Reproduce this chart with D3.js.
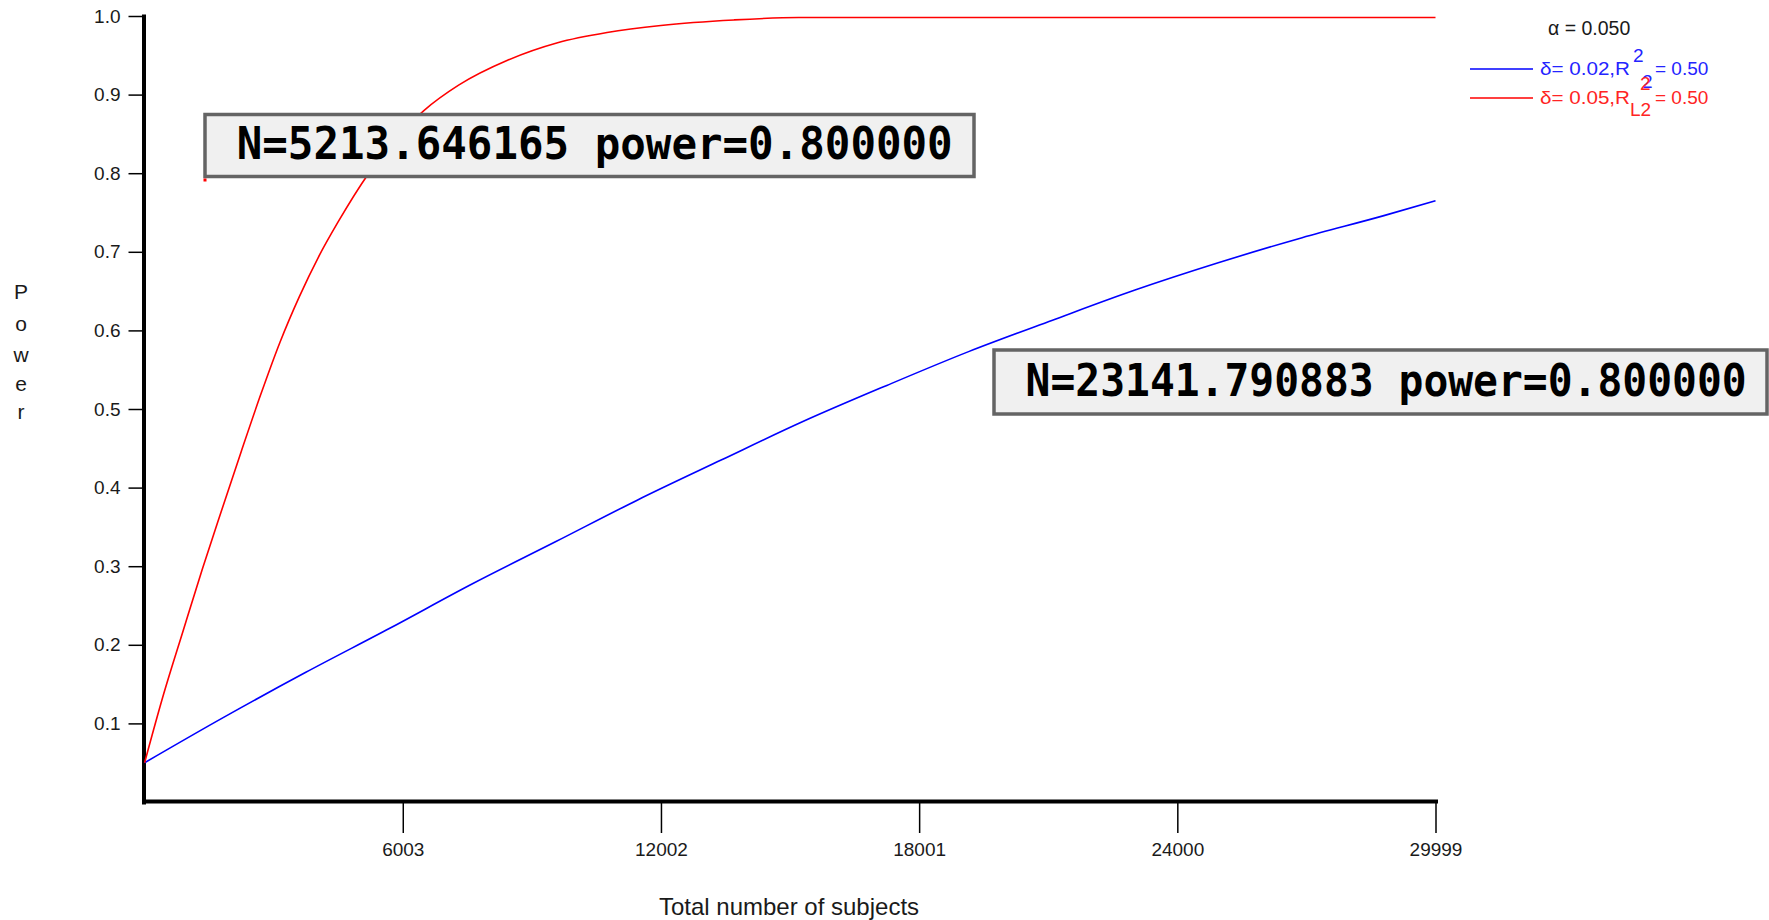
<!DOCTYPE html>
<html>
<head>
<meta charset="utf-8">
<script src="https://cdn.jsdelivr.net/npm/d3@7"></script>
<style>
  body { margin: 0; background: #fff; }
  svg { display: block; font-family: "Liberation Sans", Arial, sans-serif; }
  .axis .domain { stroke: #000; stroke-width: 4; }
  .axis .tick line { stroke: #000; stroke-width: 1.5; }
  .axis .tick text { fill: #1a1a1a; font-size: 19px; }
  .note text { font-family: "DejaVu Sans Mono", monospace; font-weight: bold; font-size: 41.5px; }
</style>
</head>
<body>
<svg id="chart" width="1769" height="920"></svg>
<script>
// power curve, delta = 0.02 (blue)
const nBlue = [4, 1850, 3750, 5700, 7600, 9550, 11450, 13400, 15300, 17250, 19150,
  21100, 23000, 24950, 26900, 28800, 29999];
const powerBlue = [0.05, 0.108, 0.165, 0.221, 0.277, 0.331, 0.384, 0.435, 0.484, 0.53, 0.573,
  0.613, 0.651, 0.686, 0.718, 0.746, 0.765];

// power curve, delta = 0.05 (red)
const nRed = [4, 450, 900, 1350, 1800, 2250, 2700, 3150, 3600, 4050, 4500, 5213, 5800, 6500,
  7300, 8450, 9600, 10750, 12000, 13700, 15200, 18000, 24000, 29999];
const powerRed = [0.05, 0.138, 0.218, 0.297, 0.372, 0.446, 0.518, 0.585, 0.643, 0.694, 0.738,
  0.8, 0.842, 0.88, 0.912, 0.944, 0.966, 0.979, 0.988, 0.995, 0.998, 0.998, 0.998, 0.998];

const xTicks = [6003, 12002, 18001, 24000, 29999];
const yTicks = [0.1, 0.2, 0.3, 0.4, 0.5, 0.6, 0.7, 0.8, 0.9, 1.0];

const legendDelta = ['0.02', '0.05'];
const legendSub = ['2', 'L2'];
const legendR2 = ['0.50', '0.50'];
const seriesColors = ['#0000ff', '#ff0000'];
const textColors = ['#2424ff', '#ff2424'];
const alphaLabel = 'α = 0.050';

const noteTexts = ['N=5213.646165 power=0.800000', 'N=23141.790883 power=0.800000'];

const svg = d3.select('#chart');

// scales
const x = d3.scaleLinear().domain([4, 29999]).range([144.6, 1435.5]);
const y = d3.scaleLinear().domain([0, 1]).range([802, 16]);

// axes
svg.append('g')
  .attr('class', 'axis')
  .attr('transform', 'translate(0,801)')
  .call(d3.axisBottom(x).tickValues(xTicks).tickFormat(d3.format('d'))
    .tickSize(32).tickSizeOuter(0).tickPadding(10));

svg.append('g')
  .attr('class', 'axis')
  .attr('transform', 'translate(143.5,0)')
  .call(d3.axisLeft(y).tickValues(yTicks).tickFormat(d3.format('.1f'))
    .tickSize(15).tickSizeOuter(0).tickPadding(8));

svg.selectAll('.axis .domain').attr('stroke-linecap', 'square');

// axis titles
svg.append('text')
  .attr('x', 789)
  .attr('y', 915)
  .attr('text-anchor', 'middle')
  .attr('font-size', 24)
  .attr('fill', '#1a1a1a')
  .text('Total number of subjects');

const yTitle = 'Power'.split('');
const yTitleBase = [299, 331, 362, 391, 419];
svg.append('g')
  .selectAll('text')
  .data(yTitle)
  .enter()
  .append('text')
  .attr('x', 21)
  .attr('y', (d, i) => yTitleBase[i])
  .attr('text-anchor', 'middle')
  .attr('font-size', 21)
  .attr('fill', '#1a1a1a')
  .text((d) => d);

// lines
const line = d3.line()
  .x((d) => x(d[0]))
  .y((d) => y(d[1]))
  .curve(d3.curveMonotoneX);

const series = [
  d3.zip(nBlue, powerBlue),
  d3.zip(nRed, powerRed),
];

svg.append('g')
  .selectAll('path')
  .data(series)
  .enter()
  .append('path')
  .attr('fill', 'none')
  .attr('stroke', (d, i) => seriesColors[i])
  .attr('stroke-width', 1.6)
  .attr('d', line);

// annotation boxes
const notes = [
  { x: 205, y: 114.5, w: 769, h: 62, tx: 236.7, ty: 158.5, tl: 716 },
  { x: 994, y: 350, w: 773, h: 64, tx: 1025.6, ty: 395.5, tl: 721 },
];

const noteG = svg.append('g').attr('class', 'note');
notes.forEach((n, i) => {
  noteG.append('rect')
    .attr('x', n.x)
    .attr('y', n.y)
    .attr('width', n.w)
    .attr('height', n.h)
    .attr('fill', '#f0f0f0')
    .attr('stroke', '#646464')
    .attr('stroke-width', 3.5);
  noteG.append('text')
    .attr('transform', `translate(${n.tx},${n.ty}) scale(1,1.09)`)
    .attr('textLength', n.tl)
    .attr('lengthAdjust', 'spacingAndGlyphs')
    .attr('fill', '#000')
    .text(noteTexts[i]);
});
// small red marker at the corner of the first box
noteG.append('rect')
  .attr('x', 203.5).attr('y', 178.5)
  .attr('width', 3).attr('height', 3)
  .attr('fill', '#ff0000');

// legend
const legend = svg.append('g').attr('font-size', 19);

legend.append('text')
  .attr('x', 1548)
  .attr('y', 35)
  .attr('fill', '#1a1a1a')
  .attr('font-size', 19.5)
  .text(alphaLabel);

const rowBase = [75, 104];
const supBase = [62, 90];
const subBase = [88, 116];
const subX = [1642, 1630];
const supX = [1633, 1640];

legendDelta.forEach((dl, i) => {
  const c = textColors[i];
  legend.append('line')
    .attr('x1', 1470).attr('x2', 1533)
    .attr('y1', rowBase[i] - 6).attr('y2', rowBase[i] - 6)
    .attr('stroke', seriesColors[i])
    .attr('stroke-width', 1.6);
  legend.append('text')
    .attr('x', 1540).attr('y', rowBase[i])
    .attr('fill', c)
    .attr('textLength', 90)
    .attr('lengthAdjust', 'spacingAndGlyphs')
    .text('δ= ' + dl + ',R');
  legend.append('text')
    .attr('x', supX[i]).attr('y', supBase[i])
    .attr('fill', c)
    .text('2');
  legend.append('text')
    .attr('x', subX[i]).attr('y', subBase[i])
    .attr('fill', c)
    .text(legendSub[i]);
  legend.append('text')
    .attr('x', 1655).attr('y', rowBase[i])
    .attr('fill', c)
    .text('= ' + legendR2[i]);
});
</script>
</body>
</html>
